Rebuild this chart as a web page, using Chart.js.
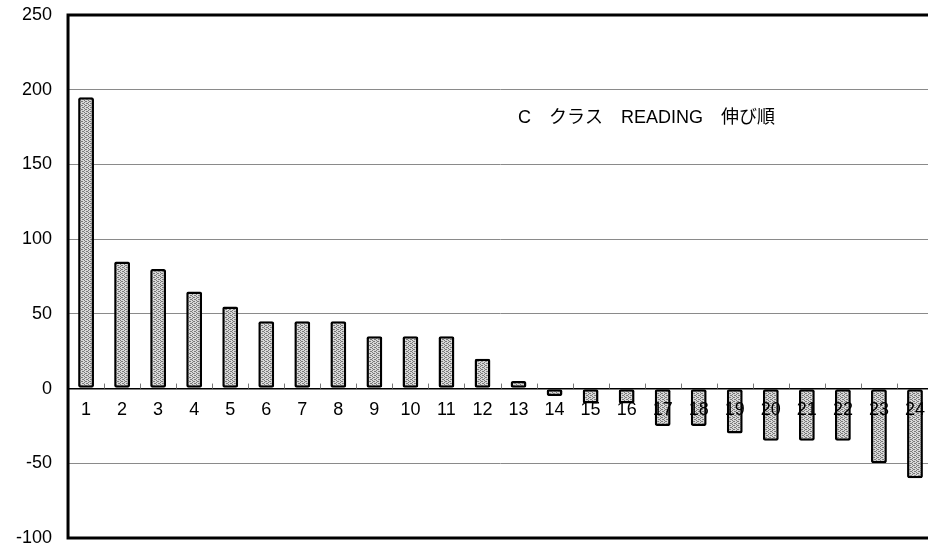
<!DOCTYPE html>
<html>
<head>
<meta charset="utf-8">
<script src="https://cdn.jsdelivr.net/npm/chart.js@4/dist/chart.umd.min.js"></script>
<style>
  html, body { margin: 0; padding: 0; background: #fff; overflow: hidden; }
  #wrap { width: 935px; height: 549px; position: relative; }
</style>
</head>
<body>
<div id="wrap"><canvas id="chart"></canvas></div>
<script>
// Student numbers, ordered by score growth
const students = ['1','2','3','4','5','6','7','8','9','10','11','12',
                  '13','14','15','16','17','18','19','20','21','22','23','24'];
// Growth in READING score for each student
const growth = [195, 85, 80, 65, 55, 45, 45, 45, 35, 35, 35, 20,
                5, -5, -10, -10, -25, -25, -30, -35, -35, -35, -50, -60];
// Value axis range and step
const yMin = -100, yMax = 250, yStep = 50;
const chartTitle = 'C\u3000クラス\u3000READING\u3000伸び順';

const fontFamily = '"Liberation Sans", Arial, sans-serif';
const labelFont = { family: fontFamily, size: 18 };

// fine gray stipple for the bar fill
function stipple() {
  const c = document.createElement('canvas');
  c.width = 4; c.height = 4;
  const g = c.getContext('2d');
  g.fillStyle = '#d8d8d8';
  g.fillRect(0, 0, 4, 4);
  g.fillStyle = '#7a7a7a';
  [[0,0],[2,1],[0,2],[2,3],[1,1],[3,3]].forEach(([x, y]) => g.fillRect(x, y, 1, 1));
  return g.createPattern(c, 'repeat');
}

// zero line ticks, category numbers on the zero line, frame and caption
const frame = {
  id: 'frame',
  afterDatasetsDraw(chart) {
    const { ctx, chartArea: a, scales } = chart;
    const y0 = scales.y.getPixelForValue(0);
    const xs = scales.x;
    const step = (xs.right - xs.left) / students.length;
    ctx.save();
    ctx.strokeStyle = '#777';
    ctx.lineWidth = 1;
    for (let i = 0; i <= students.length; i++) {
      const x = Math.round(xs.left + i * step) + 0.5;
      ctx.beginPath();
      ctx.moveTo(x, y0);
      ctx.lineTo(x, y0 - 5);
      ctx.stroke();
    }
    ctx.fillStyle = '#000';
    ctx.font = '18px ' + fontFamily;
    ctx.textAlign = 'center';
    ctx.textBaseline = 'middle';
    students.forEach((s, i) => {
      ctx.fillText(s, xs.getPixelForValue(i), y0 + 21);
    });
    ctx.strokeStyle = '#000';
    ctx.lineWidth = 3;
    ctx.strokeRect(a.left, a.top, a.right - a.left, a.bottom - a.top);
    ctx.font = '18px ' + fontFamily + ', "Noto Sans CJK JP"';
    ctx.textAlign = 'left';
    ctx.fillText(chartTitle, a.left + 450, a.top + 103);
    ctx.restore();
  }
};

new Chart(document.getElementById('chart'), {
  type: 'bar',
  data: {
    labels: students,
    datasets: [{
      data: growth,
      backgroundColor: stipple(),
      borderColor: '#000',
      borderWidth: 2.5,
      borderRadius: 2,
      borderSkipped: false,
      barPercentage: 0.8,
      categoryPercentage: 0.55
    }]
  },
  plugins: [frame],
  options: {
    responsive: true,
    maintainAspectRatio: false,
    animation: false,
    layout: { padding: { top: 0, bottom: 0, left: 0, right: 2 } },
    plugins: { legend: { display: false }, tooltip: { enabled: false }, title: { display: false } },
    scales: {
      x: {
        display: false,
        offset: true
      },
      y: {
        min: yMin,
        max: yMax,
        afterFit(scale) {
          // room above and below the plot frame
          scale.paddingTop = 15;
          scale.paddingBottom = 11;
        },
        grid: {
          drawTicks: false,
          color: ctx => ctx.tick && ctx.tick.value === 0 ? '#000' : '#8a8a8a',
          lineWidth: ctx => ctx.tick && ctx.tick.value === 0 ? 1.5 : 1
        },
        border: { display: false },
        ticks: {
          stepSize: yStep,
          color: '#000',
          padding: 16,
          font: labelFont
        }
      }
    }
  }
});
</script>
</body>
</html>
